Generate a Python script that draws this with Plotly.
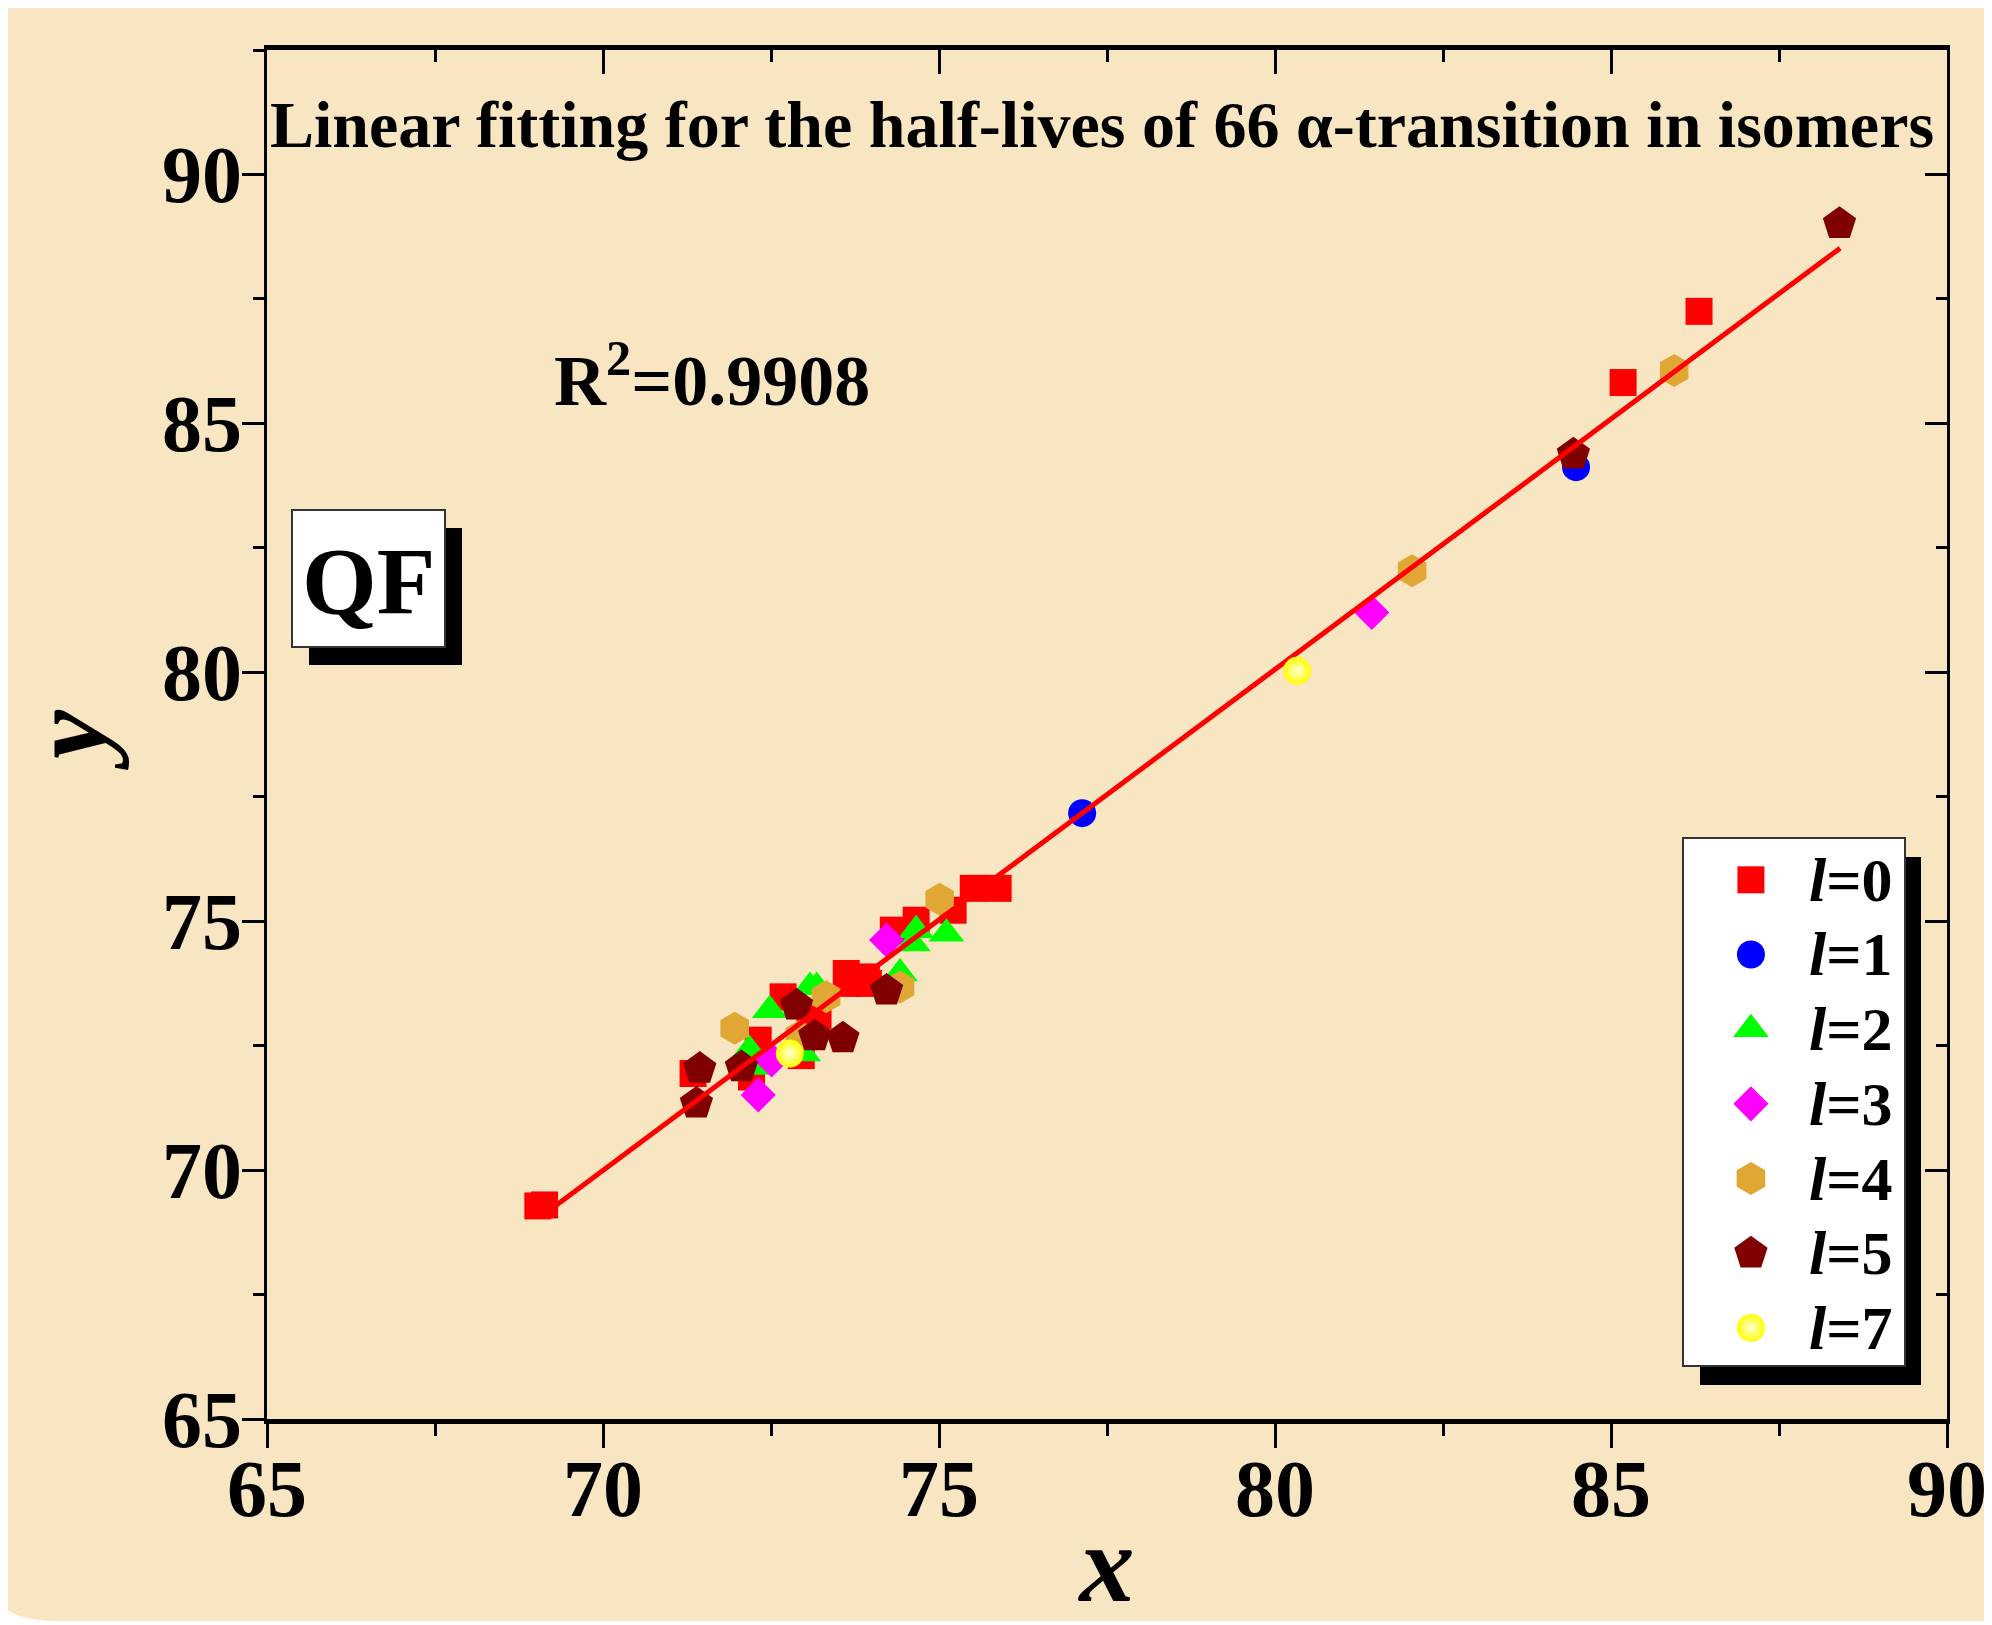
import plotly.graph_objects as go

# ---------------- data ----------------
l0_x = [69.03, 69.13, 71.34, 72.21, 72.31, 72.68, 72.95, 73.08, 73.20, 73.62, 73.65, 73.92, 73.95, 74.32, 74.66, 75.21, 75.51, 75.88, 85.18, 86.31]
l0_y = [69.28, 69.30, 71.94, 71.87, 72.61, 73.48, 72.30, 73.01, 73.10, 73.95, 73.75, 73.88, 73.75, 74.82, 75.02, 75.22, 75.66, 75.66, 85.82, 87.25]
l1_x = [77.13, 84.48]
l1_y = [77.17, 84.12]
l2_x = [72.18, 72.28, 72.48, 72.98, 73.08, 73.18, 74.42, 74.61, 74.66, 75.11]
l2_y = [72.41, 72.07, 73.21, 72.34, 73.68, 73.68, 73.95, 74.55, 74.82, 74.75]
l3_x = [72.31, 72.51, 74.22, 81.44]
l3_y = [71.51, 72.21, 74.62, 81.20]
l4_x = [71.96, 72.93, 73.32, 74.42, 75.01, 82.04, 85.94]
l4_y = [72.85, 72.69, 73.48, 73.68, 75.44, 82.04, 86.06]
l5_x = [71.39, 71.44, 72.06, 72.88, 73.15, 73.57, 74.22, 84.44, 88.40]
l5_y = [71.34, 72.04, 72.07, 73.31, 72.69, 72.65, 73.61, 84.38, 89.01]
l7_x = [72.78, 80.33]
l7_y = [72.34, 80.03]

fit_x = [69.06, 88.41]
fit_y = [69.05, 88.52]

legend_labels = ["0", "1", "2", "3", "4", "5", "7"]
x_ticks = [65, 70, 75, 80, 85, 90]
y_ticks = [65, 70, 75, 80, 85, 90]

title_text = "Linear fitting for the half-lives of 66 \u03b1-transition in isomers"
r2_text = "R<sup>2</sup>=0.9908"
method_text = "QF"

# ---------------- styles ----------------
FONT = "Liberation Serif"
BG = "#F8E5C2"
OFF = 8                      # page body margin
W, H = 1992 - OFF, 1625 - OFF
SL, SR, ST, SB = 267, 1947, 50, 1419   # plot edges in screen pixels
L, R, T, B = SL - OFF, SR - OFF, ST - OFF, SB - OFF


def px(x):
    return (x - OFF - L) / (R - L)


def py(y):
    return (B - (y - OFF)) / (B - T)


groups = [
    (l0_x, l0_y, "square", "#FF0000", 27, None),
    (l1_x, l1_y, "circle", "#0000FF", 28, None),
    (l2_x, l2_y, "triangle-up", "#00FF00", 31, None),
    (l3_x, l3_y, "diamond", "#FF00FF", 27, None),
    (l4_x, l4_y, "hexagon", "#E0A735", 33, None),
    (l5_x, l5_y, "pentagon", "#800000", 35, None),
    (l7_x, l7_y, "circle", "#FFFF00", 28, "#FFFFD8"),
]

fig = go.Figure()


def mk(sym, col, sz, grad):
    m = dict(symbol=sym, color=col, size=sz, line=dict(width=0))
    if grad:
        m["gradient"] = dict(type="radial", color=grad)
    return m


for i, (gx, gy, sym, col, sz, grad) in enumerate(groups[:6]):
    fig.add_trace(go.Scatter(x=gx, y=gy, mode="markers", marker=mk(sym, col, sz, grad),
                             name="l=" + legend_labels[i], showlegend=False))

# fit line and l=7 on the mirrored (top/right) axes, same ranges
fig.add_trace(go.Scatter(x=fit_x, y=fit_y, mode="lines", xaxis="x2", yaxis="y2",
                         line=dict(color="#FF0000", width=5),
                         showlegend=False, hoverinfo="skip"))
gx, gy, sym, col, sz, grad = groups[6]
fig.add_trace(go.Scatter(x=gx, y=gy, mode="markers", xaxis="x2", yaxis="y2",
                         marker=mk(sym, col, sz, grad), name="l=7", showlegend=False))

# manual legend markers (drawn through an overlay axis)
for i, (gx, gy, sym, col, sz, grad) in enumerate(groups):
    fig.add_trace(go.Scatter(x=[0.306], y=[i], mode="markers", marker=mk(sym, col, sz, grad),
                             xaxis="x3", yaxis="y3", showlegend=False, hoverinfo="skip"))

shapes = []
# page background with rounded lower-left corner
shapes.append(dict(
    type="path", xref="paper", yref="paper", layer="below",
    path=(f"M {px(0)},{py(0)} L {px(2000)},{py(0)} L {px(2000)},{py(1621)} "
          f"L {px(62)},{py(1621)} Q {px(0)},{py(1621)} {px(0)},{py(1594)} Z"),
    fillcolor=BG, line=dict(width=0)))
# legend shadow + box
shapes.append(dict(type="rect", xref="paper", yref="paper", layer="below",
                   x0=px(1700), x1=px(1921), y0=py(1385), y1=py(857),
                   fillcolor="black", line=dict(width=0)))
shapes.append(dict(type="rect", xref="paper", yref="paper", layer="below",
                   x0=px(1683), x1=px(1905), y0=py(1366), y1=py(838),
                   fillcolor="white", line=dict(color="#333333", width=2)))
# QF shadow + box
shapes.append(dict(type="rect", xref="paper", yref="paper", layer="below",
                   x0=px(309), x1=px(462), y0=py(665), y1=py(528),
                   fillcolor="black", line=dict(width=0)))
shapes.append(dict(type="rect", xref="paper", yref="paper", layer="below",
                   x0=px(292), x1=px(445), y0=py(647), y1=py(510),
                   fillcolor="white", line=dict(color="#333333", width=2)))

annotations = [
    dict(text="<b>" + title_text + "</b>", xref="paper", yref="paper",
         x=px(1102), y=py(124), xanchor="center", yanchor="middle",
         showarrow=False, font=dict(family=FONT, size=66, color="black")),
    dict(text="<b>" + r2_text + "</b>", xref="paper", yref="paper",
         x=px(712), y=py(375), xanchor="center", yanchor="middle",
         showarrow=False, font=dict(family=FONT, size=72, color="black")),
    dict(text="<b>" + method_text + "</b>", xref="paper", yref="paper",
         x=px(368), y=py(581), xanchor="center", yanchor="middle",
         showarrow=False, font=dict(family=FONT, size=96, color="black")),
]
for i, lab in enumerate(legend_labels):
    annotations.append(dict(
        text="<b><i>l</i>=" + lab + "</b>", xref="x3", yref="y3",
        x=0.56, y=i, xanchor="left", yanchor="middle", showarrow=False,
        font=dict(family=FONT, size=62, color="black")))

tickfont = dict(family=FONT, size=80, color="black")
common = dict(showgrid=False, zeroline=False, linecolor="black",
              tickcolor="black", tickwidth=3, mirror=False)

fig.update_layout(
    width=W, height=H,
    margin=dict(l=L, r=W - R, t=T, b=H - B, autoexpand=False),
    paper_bgcolor="white", plot_bgcolor="rgba(0,0,0,0)",
    showlegend=False,
    shapes=shapes, annotations=annotations,
    xaxis=dict(range=[65, 90], tickmode="array", tickvals=x_ticks,
               ticktext=["<b>%d</b>" % v for v in x_ticks],
               ticks="outside", ticklen=24, showline=True, linewidth=5,
               minor=dict(dtick=2.5, tick0=65, ticklen=12, tickwidth=3,
                          ticks="outside", tickcolor="black"),
               tickfont=tickfont, ticklabelstandoff=-28,
               title=dict(text="<b><i>x</i></b>",
                          font=dict(family=FONT, size=110, color="black"),
                          standoff=80),
               **common),
    yaxis=dict(range=[65, 92.5], tickmode="array", tickvals=y_ticks,
               ticktext=["<b>%d</b>" % v for v in y_ticks],
               ticks="outside", ticklen=22, showline=True, linewidth=3,
               minor=dict(dtick=2.5, tick0=65, ticklen=11, tickwidth=3,
                          ticks="outside", tickcolor="black"),
               tickfont=tickfont, ticklabelstandoff=-16,
               title=dict(text="<b><i>y</i></b>",
                          font=dict(family=FONT, size=110, color="black"),
                          standoff=30),
               **common),
    xaxis2=dict(range=[65, 90], overlaying="x", side="top", anchor="y",
                tickmode="array", tickvals=x_ticks, showticklabels=False,
                ticks="inside", ticklen=24, showline=True, linewidth=5,
                minor=dict(dtick=2.5, tick0=65, ticklen=12, tickwidth=3,
                           ticks="inside", tickcolor="black"),
                **common),
    yaxis2=dict(range=[65, 92.5], overlaying="y", side="right", anchor="x",
                tickmode="array", tickvals=y_ticks, showticklabels=False,
                ticks="inside", ticklen=22, showline=True, linewidth=3,
                minor=dict(dtick=2.5, tick0=65, ticklen=11, tickwidth=3,
                           ticks="inside", tickcolor="black"),
                **common),
    xaxis3=dict(domain=[px(1683), px(1905)], range=[0, 1], anchor="y3",
                visible=False, fixedrange=True),
    yaxis3=dict(domain=[py(1366), py(838)], range=[6.51, -0.56], anchor="x3",
                visible=False, fixedrange=True),
)

fig.write_html("out.html")
